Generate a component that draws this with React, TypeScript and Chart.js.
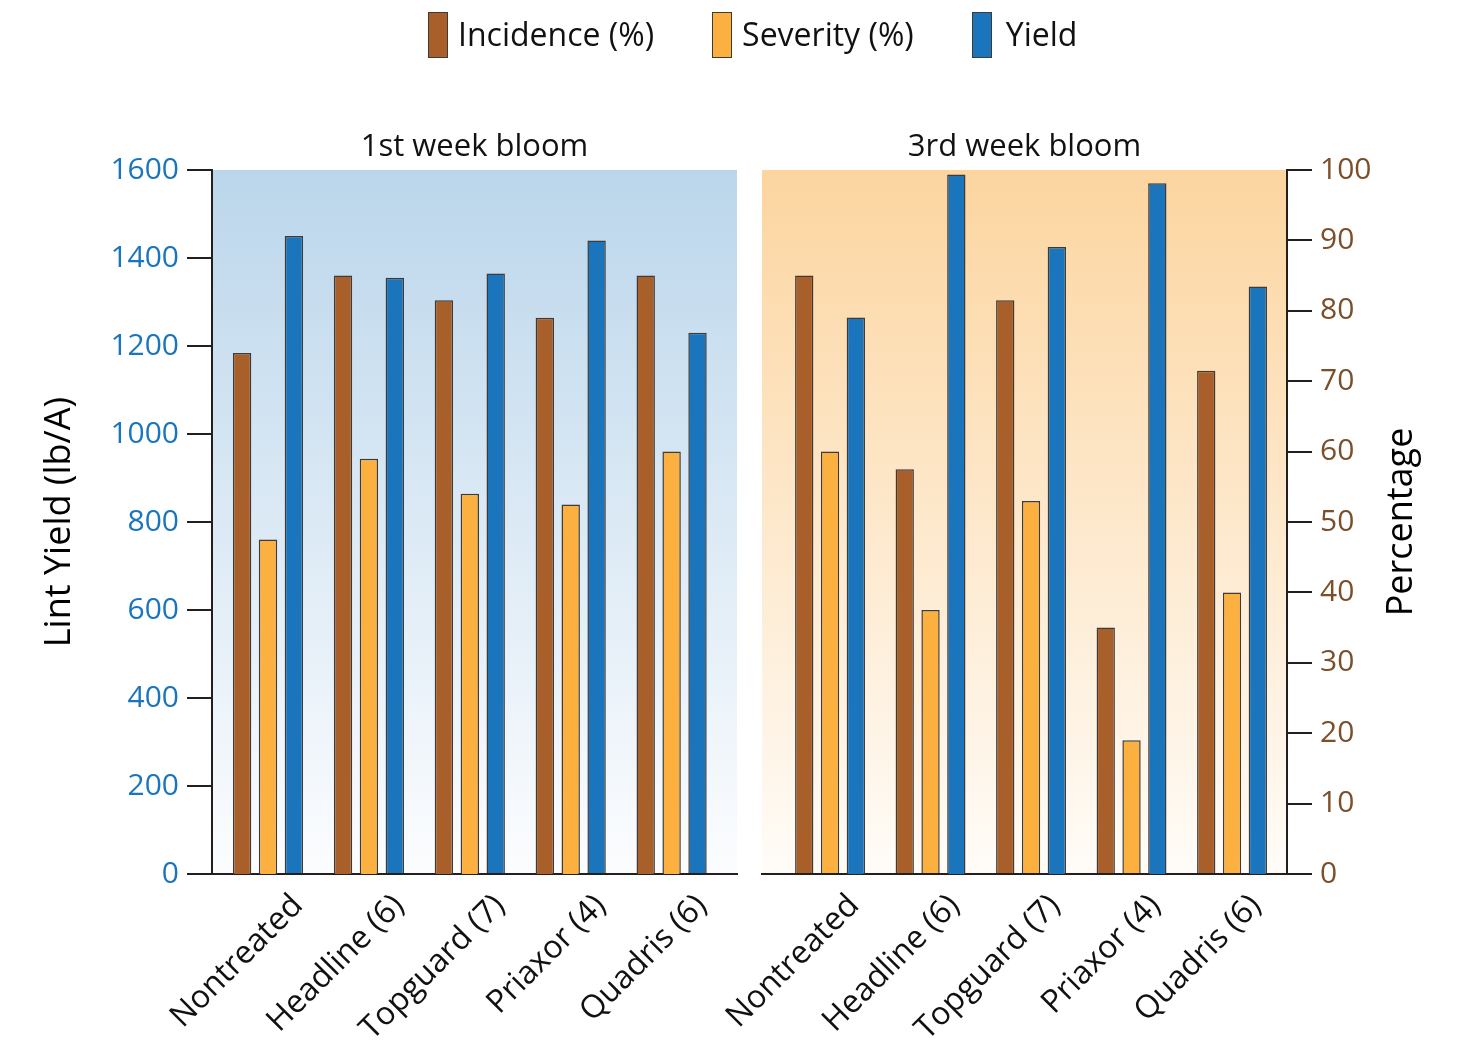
import React, { useEffect, useRef } from 'react';
import { Chart, registerables } from 'chart.js';

Chart.register(...registerables);

// ---------- data ----------
const categories = ['Nontreated', 'Headline (6)', 'Topguard (7)', 'Priaxor (4)', 'Quadris (6)'];
const panelTitles = ['1st week bloom', '3rd week bloom'];
const seriesNames = ['Incidence (%)', 'Severity (%)', 'Yield'];

const incidenceWeek1 = [74, 85, 81.5, 79, 85];
const severityWeek1 = [47.5, 59, 54, 52.5, 60];
const yieldWeek1 = [1450, 1355, 1365, 1440, 1230];

const incidenceWeek3 = [85, 57.5, 81.5, 35, 71.5];
const severityWeek3 = [60, 37.5, 53, 19, 40];
const yieldWeek3 = [1265, 1590, 1425, 1570, 1335];

const yieldRange = [0, 1600];
const yieldStep = 200;
const pctRange = [0, 100];
const pctStep = 10;

const yieldAxisTitle = 'Lint Yield (lb/A)';
const pctAxisTitle = 'Percentage';

// ---------- styles ----------
const W = 1461;
const H = 1056;
const FONT = '"Open Sans", "Noto Sans", sans-serif';
const COLORS = ['#A95F29', '#FBB040', '#1B75BC'];
const BAR_BORDER = '#3d3a38';
const AXIS = '#231f20';

Chart.defaults.font.family = FONT;

const bgPlugin = (top: string, bottom: string) => ({
  id: 'panelBg',
  beforeDraw(chart: any) {
    const { ctx, chartArea: a } = chart;
    const g = ctx.createLinearGradient(0, a.top, 0, a.bottom);
    g.addColorStop(0, top);
    g.addColorStop(1, bottom);
    ctx.save();
    ctx.fillStyle = g;
    ctx.fillRect(a.left, a.top, a.right - a.left, a.bottom - a.top);
    ctx.restore();
  },
});

const rightTitlePlugin = {
  id: 'rightTitle',
  afterDraw(chart: any) {
    const s = chart.scales.pct;
    const { ctx } = chart;
    ctx.save();
    ctx.translate(s.right - 59, (s.top + s.bottom) / 2);
    ctx.rotate(-Math.PI / 2);
    ctx.font = `36px ${FONT}`;
    ctx.fillStyle = '#000';
    ctx.textAlign = 'center';
    ctx.textBaseline = 'middle';
    ctx.fillText(pctAxisTitle, 0, 0);
    ctx.restore();
  },
};

function makeDatasets(inc: number[], sev: number[], yld: number[]) {
  const series = [inc, sev, yld];
  return series.map((vals, k) => ({
    label: seriesNames[k],
    data: vals.map((v, i) => ({ x: i, y: v })),
    yAxisID: k === 2 ? 'y' : 'pct',
    backgroundColor: COLORS[k],
    borderColor: BAR_BORDER,
    borderWidth: 1.5,
    categoryPercentage: 0.77,
    barPercentage: 0.71,
  }));
}

function xScale(min: number, max: number, labelOffset: number) {
  return {
    type: 'linear',
    min,
    max,
    offset: false,
    z: 1,
    afterBuildTicks: (s: any) => {
      s.ticks = categories.map((_, i) => ({ value: i }));
    },
    afterFit: (s: any) => {
      s.height = H - 874;
    },
    grid: { display: false, drawTicks: false },
    border: { display: true, color: AXIS, width: 2 },
    ticks: {
      autoSkip: false,
      maxRotation: 45,
      minRotation: 45,
      padding: 13,
      labelOffset,
      color: '#111',
      font: { size: 32 },
      callback: (v: number) => categories[v] ?? '',
    },
  };
}

const plainNumber = (v: number) => String(v);

function leftConfig(): any {
  return {
    type: 'bar',
    data: { datasets: makeDatasets(incidenceWeek1, severityWeek1, yieldWeek1) },
    options: {
      responsive: false,
      animation: false,
      layout: { padding: { left: 0, right: W - 737, top: 0, bottom: 0 } },
      plugins: {
        legend: { display: false },
        tooltip: { enabled: false },
        title: {
          display: true,
          text: panelTitles[0],
          fullSize: false,
          color: '#111',
          font: { size: 31, weight: 'normal', lineHeight: 1.2 },
          padding: { top: 129, bottom: 3.8 },
        },
      },
      scales: {
        x: xScale(-0.555, 4.648, 30),
        y: {
          position: 'left',
          min: yieldRange[0],
          max: yieldRange[1],
          afterFit: (s: any) => {
            s.width = 212;
          },
          ticks: { stepSize: yieldStep, padding: 8, color: '#1B75BC', font: { size: 30 }, callback: plainNumber },
          grid: { drawOnChartArea: false, drawTicks: true, tickLength: 25, color: AXIS, lineWidth: 2 },
          border: { display: true, color: AXIS, width: 2 },
          title: {
            display: true,
            text: yieldAxisTitle,
            color: '#000',
            font: { size: 36, lineHeight: 1.2 },
            padding: { top: 38, bottom: 0 },
          },
        },
        pct: { display: false, min: pctRange[0], max: pctRange[1] },
      },
    },
    plugins: [bgPlugin('#BBD6EB', '#FCFDFF')],
  };
}

function rightConfig(): any {
  return {
    type: 'bar',
    data: { datasets: makeDatasets(incidenceWeek3, severityWeek3, yieldWeek3) },
    options: {
      responsive: false,
      animation: false,
      layout: { padding: { left: 762, right: 0, top: 0, bottom: 0 } },
      plugins: {
        legend: { display: false },
        tooltip: { enabled: false },
        title: {
          display: true,
          text: panelTitles[1],
          fullSize: false,
          color: '#111',
          font: { size: 31, weight: 'normal', lineHeight: 1.2 },
          padding: { top: 129, bottom: 3.8 },
        },
      },
      scales: {
        x: xScale(-0.677, 4.547, 24),
        y: { display: false, min: yieldRange[0], max: yieldRange[1] },
        pct: {
          position: 'right',
          min: pctRange[0],
          max: pctRange[1],
          afterFit: (s: any) => {
            s.width = W - 1287;
          },
          ticks: { stepSize: pctStep, padding: 8, color: '#7B4F2A', font: { size: 30 }, callback: plainNumber },
          grid: { drawOnChartArea: false, drawTicks: true, tickLength: 25, color: AXIS, lineWidth: 2 },
          border: { display: true, color: AXIS, width: 2 },
        },
      },
    },
    plugins: [bgPlugin('#FCD5A0', '#FFFCF8'), rightTitlePlugin],
  };
}

export default function App() {
  const leftRef = useRef<HTMLCanvasElement>(null);
  const rightRef = useRef<HTMLCanvasElement>(null);

  useEffect(() => {
    const c1 = new Chart(leftRef.current as HTMLCanvasElement, leftConfig());
    const c2 = new Chart(rightRef.current as HTMLCanvasElement, rightConfig());
    return () => {
      c1.destroy();
      c2.destroy();
    };
  }, []);

  const canvasStyle: React.CSSProperties = {
    position: 'absolute',
    left: 0,
    top: 0,
    width: W,
    height: H,
  };

  return (
    <div style={{ position: 'absolute', left: 0, top: 0, width: W, height: H, background: '#fff', overflow: 'hidden' }}>
      <canvas ref={leftRef} width={W} height={H} style={canvasStyle} />
      <canvas ref={rightRef} width={W} height={H} style={canvasStyle} />
      <div
        style={{
          position: 'absolute',
          left: 428,
          top: 12,
          display: 'flex',
          alignItems: 'center',
          fontFamily: FONT,
          fontSize: 32,
          color: '#111',
          whiteSpace: 'nowrap',
        }}
      >
        {seriesNames.map((name, i) => (
          <div key={name} style={{ display: 'flex', alignItems: 'center', marginRight: i < seriesNames.length - 1 ? 58 : 0 }}>
            <span
              style={{
                display: 'inline-block',
                width: 20,
                height: 46,
                boxSizing: 'border-box',
                background: COLORS[i],
                border: `1px solid ${BAR_BORDER}`,
                marginRight: i === 2 ? 14 : 10,
              }}
            />
            <span style={{ position: 'relative', top: -2 }}>{name}</span>
          </div>
        ))}
      </div>
    </div>
  );
}
